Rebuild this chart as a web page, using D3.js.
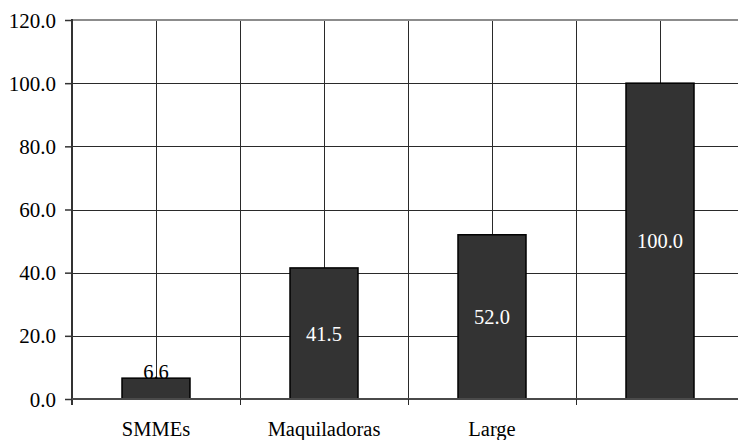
<!DOCTYPE html>
<html>
<head>
<meta charset="utf-8">
<script src="https://cdn.jsdelivr.net/npm/d3@7"></script>
<style>
  html, body { margin: 0; padding: 0; background: #fff; }
  svg { display: block; }
  svg text { font-family: "Times New Roman", Times, "Liberation Serif", "DejaVu Serif", serif !important; }
</style>
</head>
<body>
<svg id="chart" width="738" height="440"></svg>
<script>
// Index values per firm group (last bar is the reference group = 100)
const categories = ["SMMEs", "Maquiladoras", "Large", ""];
const values = [6.6, 41.5, 52.0, 100.0];
const yTicks = [0, 20, 40, 60, 80, 100, 120];

const W = 738, H = 440;
const plot = { left: 72, right: 744, top: 20, bottom: 399 };
const FONT = "'Times New Roman', Times, 'Liberation Serif', 'DejaVu Serif', serif";

const svg = d3.select("#chart");

const x = d3.scaleBand()
  .domain(categories)
  .range([plot.left, plot.right])
  .paddingInner(100 / 168)
  .paddingOuter(50 / 168);

const y = d3.scaleLinear()
  .domain([0, 120])
  .range([plot.bottom, plot.top]);

const step = x.step();
const bw = x.bandwidth();
const crisp = v => Math.round(v) + 0.5;

// Horizontal gridlines
const grid = svg.append("g");
grid.selectAll("line.h")
  .data(yTicks.filter(t => t > 0 && t < 120))
  .join("line")
  .attr("x1", plot.left).attr("x2", W)
  .attr("y1", d => crisp(y(d))).attr("y2", d => crisp(y(d)))
  .attr("stroke", "#2a2a2a").attr("stroke-width", 1);

// Vertical gridlines at category centres and between categories
const vLines = [];
categories.forEach((c, i) => {
  const centre = x(c) + bw / 2;
  vLines.push(centre);
  if (i > 0) vLines.push(centre - step / 2);
});
grid.selectAll("line.v")
  .data(vLines)
  .join("line")
  .attr("x1", d => crisp(d)).attr("x2", d => crisp(d))
  .attr("y1", y(120)).attr("y2", plot.bottom)
  .attr("stroke", "#2a2a2a").attr("stroke-width", 1);

// Top border of the plot area
svg.append("line")
  .attr("x1", plot.left).attr("x2", W)
  .attr("y1", y(120)).attr("y2", y(120))
  .attr("stroke", "#8c8c8c").attr("stroke-width", 2);

// Labels that do not fit inside their bar sit on top of it (drawn first, bar overlaps)
const fits = d => (y(0) - y(d)) > 24;
svg.append("g").selectAll("text")
  .data(categories.map((c, i) => ({ c, v: values[i] })).filter(d => !fits(d.v)))
  .join("text")
  .attr("x", d => x(d.c) + bw / 2)
  .attr("y", d => y(d.v) + 1)
  .attr("text-anchor", "middle")
  .attr("font-family", FONT)
  .attr("font-size", 20.5)
  .attr("fill", "#000")
  .text(d => d3.format(".1f")(d.v));

// Bars
svg.append("g").selectAll("rect")
  .data(categories.map((c, i) => ({ c, v: values[i] })))
  .join("rect")
  .attr("x", d => x(d.c))
  .attr("y", d => y(d.v))
  .attr("width", bw)
  .attr("height", d => y(0) - y(d.v))
  .attr("fill", "#333333")
  .attr("stroke", "#000")
  .attr("stroke-width", 1.5);

// Labels inside bars
svg.append("g").selectAll("text")
  .data(categories.map((c, i) => ({ c, v: values[i] })).filter(d => fits(d.v)))
  .join("text")
  .attr("x", d => x(d.c) + bw / 2)
  .attr("y", d => (y(d.v) + y(0)) / 2)
  .attr("dy", "0.35em")
  .attr("text-anchor", "middle")
  .attr("font-family", FONT)
  .attr("font-size", 20.5)
  .attr("fill", "#fff")
  .text(d => d3.format(".1f")(d.v));

// Y axis
const yAxis = svg.append("g")
  .attr("transform", `translate(${plot.left},0)`)
  .call(d3.axisLeft(y).tickValues(yTicks).tickFormat(d3.format(".1f"))
    .tickSizeInner(7).tickSizeOuter(0).tickPadding(9));
yAxis.attr("font-family", FONT);
yAxis.select(".domain").remove();
yAxis.selectAll(".tick line").attr("stroke", "#333").attr("stroke-width", 1.5);
yAxis.selectAll(".tick text")
  .attr("font-family", FONT)
  .attr("font-size", 21).attr("fill", "#000").attr("dy", "0.34em");
yAxis.append("line")
  .attr("x1", 0).attr("x2", 0)
  .attr("y1", y(120) - 1).attr("y2", plot.bottom + 6)
  .attr("stroke", "#333").attr("stroke-width", 2);

// X axis baseline, separator ticks and category labels
svg.append("line")
  .attr("x1", plot.left).attr("x2", W)
  .attr("y1", plot.bottom).attr("y2", plot.bottom)
  .attr("stroke", "#4a4a4a").attr("stroke-width", 2);
svg.append("g").selectAll("line")
  .data(categories.slice(1).map(c => x(c) + bw / 2 - step / 2))
  .join("line")
  .attr("x1", d => crisp(d)).attr("x2", d => crisp(d))
  .attr("y1", plot.bottom).attr("y2", plot.bottom + 6)
  .attr("stroke", "#2a2a2a").attr("stroke-width", 1);

const xAxis = svg.append("g")
  .attr("transform", `translate(0,${plot.bottom})`)
  .call(d3.axisBottom(x).tickSize(0).tickPadding(0));
xAxis.attr("font-family", FONT);
xAxis.select(".domain").remove();
xAxis.selectAll(".tick text")
  .attr("font-family", FONT)
  .attr("font-size", 20.5).attr("fill", "#000")
  .attr("y", 37).attr("dy", null);
</script>
</body>
</html>
